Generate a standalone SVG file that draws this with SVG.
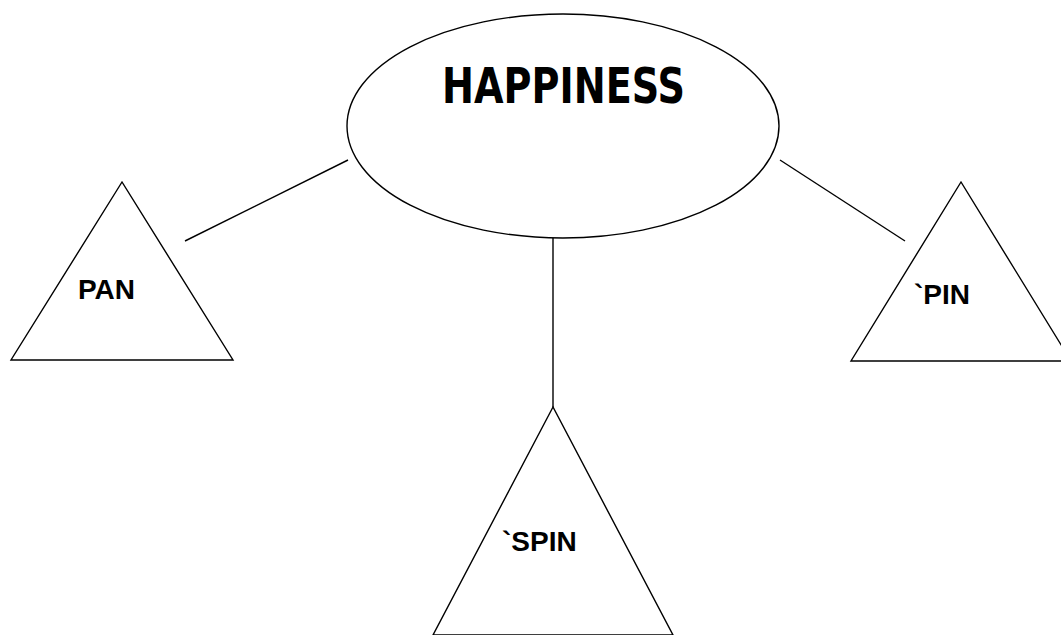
<svg xmlns="http://www.w3.org/2000/svg" width="1061" height="635" viewBox="0 0 1061 635">
<style>
.s{fill:none;stroke:#000;stroke-width:1.4}
.n{fill:#fff;stroke:#000;stroke-width:1.4}
.t{font-family:"Liberation Sans",Arial,sans-serif;font-weight:bold;font-size:28px;fill:#000}
.h{font-family:"DejaVu Sans","Liberation Sans",sans-serif;font-weight:bold;font-size:50px;fill:#000}
</style>
<rect width="1061" height="635" fill="#fff"/>
<g id="connectors">
<line class="s" x1="185" y1="241" x2="348" y2="160"/>
<line class="s" x1="780" y1="160" x2="905" y2="241"/>
<line class="s" x1="553" y1="238" x2="553" y2="407"/>
</g>
<g id="happiness">
<ellipse class="n" cx="563" cy="126" rx="216" ry="112"/>
<text class="h" x="442" y="103" textLength="243" lengthAdjust="spacingAndGlyphs">HAPPINESS</text>
</g>
<g id="pan">
<polygon class="n" points="122,182 11,360 233,360"/>
<text class="t" x="78" y="299">PAN</text>
</g>
<g id="pin">
<polygon class="n" points="961,182 851,361 1071,361"/>
<text class="t" x="914" y="304">`PIN</text>
</g>
<g id="spin">
<polygon class="n" points="553,407 433,635 673,635"/>
<text class="t" x="502" y="551">`SPIN</text>
</g>
</svg>
